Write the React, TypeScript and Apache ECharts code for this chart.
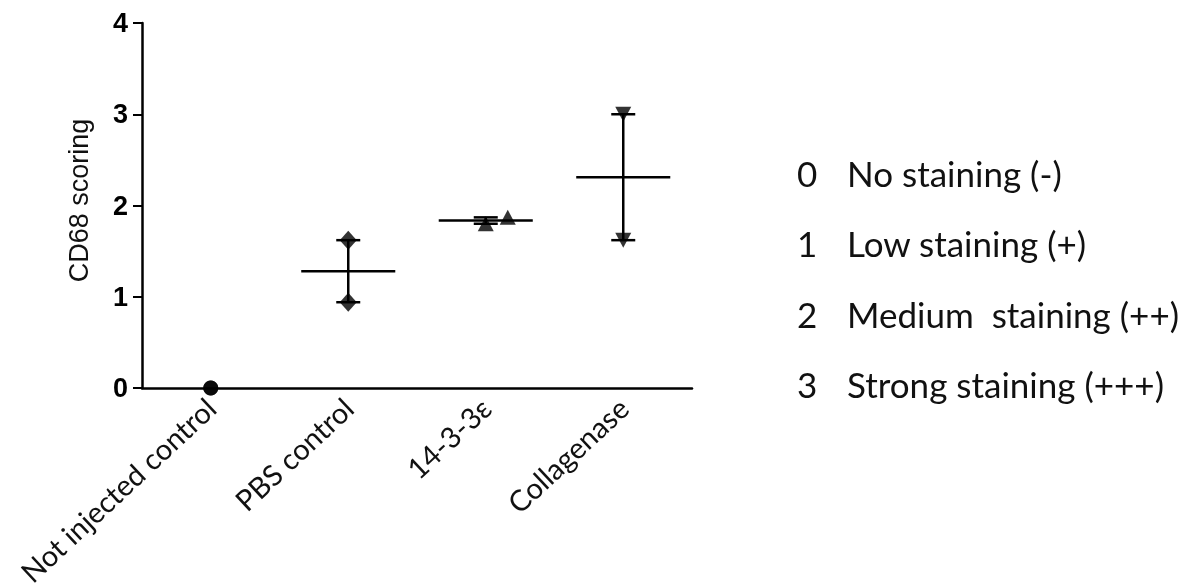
import React, { useEffect, useRef } from "react";
import * as echarts from "echarts";

const categories = ["Not injected control", "PBS control", "14-3-3ε", "Collagenase"];
const notInjected = [0, 0];
const pbsControl = [1.62, 0.94];
const protein1433e = [1.8, 1.87];
const collagenase = [3.0, 1.62];
const yTicks = [0, 1, 2, 3, 4];
const legendScores = ["0", "1", "2", "3"];
const legendLabels = ["No staining (-)", "Low staining (+)", "Medium  staining (++)", "Strong staining (+++)"];

const groups = [notInjected, pbsControl, protein1433e, collagenase];
const symbols = ["circle", "diamond", "triangle", "triangle"];
const symbolRotates = [0, 0, 0, 180];
const symbolSizes: any[] = [15, [17, 19], [16, 15], [16, 15]];
const jitter: number[][] = [[0, 0], [0, 0], [0, 22], [0, 0]];

export default function App() {
  const ref = useRef<HTMLDivElement>(null);
  useEffect(() => {
    if (!ref.current) return;
    const chart = echarts.init(ref.current, undefined, { renderer: "svg" });
    const ink = "#000";

    const summary = groups.map((vals, i) => {
      const mean = vals.reduce((a, b) => a + b, 0) / vals.length;
      return [i, mean, Math.min(...vals), Math.max(...vals)];
    });

    const pointSeries = groups.map((vals, gi) => ({
      type: "scatter",
      symbol: symbols[gi],
      symbolRotate: symbolRotates[gi],
      symbolSize: symbolSizes[gi],
      itemStyle: { color: ink },
      z: 5,
      data: vals.map((v, j) => ({ value: [gi, v], symbolOffset: [jitter[gi][j], 0] })),
    }));

    chart.setOption({
      animation: false,
      grid: { left: 142, right: 492, top: 23, bottom: 200, outerBoundsMode: "none" },
      xAxis: {
        type: "category",
        data: categories,
        boundaryGap: true,
        axisLine: { lineStyle: { color: ink, width: 2.5 } },
        axisTick: { alignWithLabel: true, length: 8, lineStyle: { color: ink, width: 2 } },
        axisLabel: {
          rotate: 43,
          interval: 0,
          margin: 15,
          fontFamily: "Lato",
          fontSize: 29,
          color: "#111",
        },
        splitLine: { show: false },
      },
      yAxis: {
        type: "value",
        min: yTicks[0],
        max: yTicks[yTicks.length - 1],
        interval: 1,
        name: "CD68 scoring",
        nameLocation: "middle",
        nameRotate: 90,
        nameGap: 50,
        nameTextStyle: { fontFamily: "Liberation Sans", fontSize: 27, color: "#111", padding: [0, 0, 0, 10] },
        axisLine: { show: true, lineStyle: { color: ink, width: 2.5 } },
        axisTick: { show: true, length: 9, lineStyle: { color: ink, width: 2 } },
        axisLabel: {
          margin: 14,
          fontFamily: "Arial, Liberation Sans",
          fontWeight: 700,
          fontSize: 27,
          color: ink,
        },
        splitLine: { show: false },
      },
      series: [
        {
          type: "custom",
          z: 3,
          data: summary,
          renderItem: (params: any, api: any) => {
            const x = api.value(0);
            if (api.value(3) <= 0) return { type: "group", children: [] };
            const pM = api.coord([x, api.value(1)]);
            const pL = api.coord([x, api.value(2)]);
            const pH = api.coord([x, api.value(3)]);
            const band = api.size([1, 0])[0];
            const halfMean = band * 0.342;
            const halfCap = 12;
            const st = { stroke: ink, lineWidth: 2.5 };
            return {
              type: "group",
              children: [
                { type: "line", shape: { x1: pM[0] - halfMean, y1: pM[1], x2: pM[0] + halfMean, y2: pM[1] }, style: st },
                { type: "line", shape: { x1: pL[0], y1: pL[1], x2: pH[0], y2: pH[1] }, style: st },
                { type: "line", shape: { x1: pL[0] - halfCap, y1: pL[1], x2: pL[0] + halfCap, y2: pL[1] }, style: st },
                { type: "line", shape: { x1: pH[0] - halfCap, y1: pH[1], x2: pH[0] + halfCap, y2: pH[1] }, style: st },
              ],
            };
          },
        },
        ...pointSeries,
      ],
      graphic: legendScores.flatMap((s, i) => [
        {
          type: "text",
          x: 797,
          y: 173 + i * 70.3,
          style: { text: s, font: "35px Lato", fill: "#111", align: "left", verticalAlign: "middle" },
        },
        {
          type: "text",
          x: 847,
          y: 173 + i * 70.3,
          style: { text: legendLabels[i], font: "35px Lato", fill: "#111", align: "left", verticalAlign: "middle" },
        },
      ]),
    });
    return () => chart.dispose();
  }, []);
  return <div ref={ref} style={{ position: "fixed", left: 0, top: 0, width: 1184, height: 588 }} />;
}
